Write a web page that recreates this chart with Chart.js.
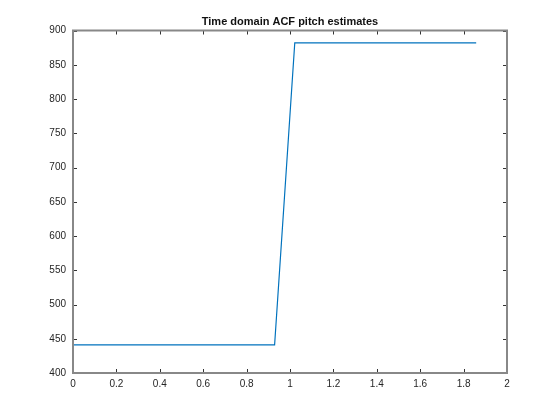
<!DOCTYPE html>
<html>
<head>
<meta charset="utf-8">
<script src="https://cdn.jsdelivr.net/npm/chart.js@4/dist/chart.umd.min.js"></script>
<style>
  html, body { margin: 0; padding: 0; background: #fff; }
  #wrap { width: 560px; height: 420px; }
</style>
</head>
<body>
<div id="wrap"><canvas id="c" width="560" height="420"></canvas></div>
<script>
// frame times (s) and ACF pitch estimate per frame (Hz)
const frameTimes = [0, 0.093, 0.186, 0.279, 0.372, 0.464, 0.557, 0.650, 0.743, 0.836, 0.929,
                    1.022, 1.115, 1.207, 1.300, 1.393, 1.486, 1.579, 1.672, 1.765, 1.858];
const pitchHz = [441, 441, 441, 441, 441, 441, 441, 441, 441, 441, 441,
                 882, 882, 882, 882, 882, 882, 882, 882, 882, 882];
const xTicks = [0, 0.2, 0.4, 0.6, 0.8, 1, 1.2, 1.4, 1.6, 1.8, 2];
const yTicks = [400, 450, 500, 550, 600, 650, 700, 750, 800, 850, 900];
const titleText = 'Time domain ACF pitch estimates';

const FONT = 'Liberation Sans, Arial, Helvetica, sans-serif';

// MATLAB-ish box with inward ticks on all four sides, title centred over the axes
const boxPlugin = {
  id: 'box',
  afterDraw(chart) {
    const { ctx, chartArea: a, scales: { x, y } } = chart;
    ctx.save();
    ctx.strokeStyle = '#333';
    ctx.lineWidth = 1;
    ctx.beginPath();
    xTicks.forEach(v => {
      const px = Math.round(x.getPixelForValue(v)) + 0.5;
      ctx.moveTo(px, a.bottom); ctx.lineTo(px, a.bottom - 4);
      ctx.moveTo(px, a.top); ctx.lineTo(px, a.top + 4);
    });
    yTicks.forEach(v => {
      const py = Math.round(y.getPixelForValue(v)) + 0.5;
      ctx.moveTo(a.left, py); ctx.lineTo(a.left + 4, py);
      ctx.moveTo(a.right, py); ctx.lineTo(a.right - 4, py);
    });
    ctx.stroke();
    ctx.strokeStyle = '#888';
    ctx.lineWidth = 2;
    ctx.strokeRect(a.left, a.top, a.right - a.left, a.bottom - a.top);

    ctx.fillStyle = '#111';
    ctx.font = 'bold 11px ' + FONT;
    ctx.textAlign = 'center';
    ctx.textBaseline = 'alphabetic';
    ctx.fillText(titleText, (a.left + a.right) / 2, a.top - 6);
    ctx.restore();
  }
};

new Chart(document.getElementById('c').getContext('2d'), {
  type: 'line',
  data: {
    datasets: [{
      data: frameTimes.map((t, i) => ({ x: t, y: pitchHz[i] })),
      borderColor: '#0072BD',
      borderWidth: 1.2,
      pointRadius: 0,
      fill: false,
      tension: 0
    }]
  },
  options: {
    responsive: false,
    animation: false,
    devicePixelRatio: 1,
    layout: { padding: { left: 0, right: 53, top: 30.5, bottom: 0 } },
    plugins: {
      legend: { display: false },
      tooltip: { enabled: false },
      title: { display: false }
    },
    scales: {
      x: {
        type: 'linear',
        min: 0, max: 2,
        afterFit(s) { s.height = 47; },
        afterBuildTicks(s) { s.ticks = xTicks.map(v => ({ value: v })); },
        grid: { display: false, drawTicks: false },
        border: { display: false },
        ticks: {
          color: '#262626', padding: 5, maxRotation: 0,
          font: { family: FONT, size: 10 },
          callback: v => String(v)
        }
      },
      y: {
        min: 400, max: 900,
        afterFit(s) { s.width = 73; },
        afterBuildTicks(s) { s.ticks = yTicks.map(v => ({ value: v })); },
        grid: { display: false, drawTicks: false },
        border: { display: false },
        ticks: {
          color: '#262626', padding: 7,
          font: { family: FONT, size: 10 },
          callback: v => String(v)
        }
      }
    }
  },
  plugins: [boxPlugin]
});
</script>
</body>
</html>
